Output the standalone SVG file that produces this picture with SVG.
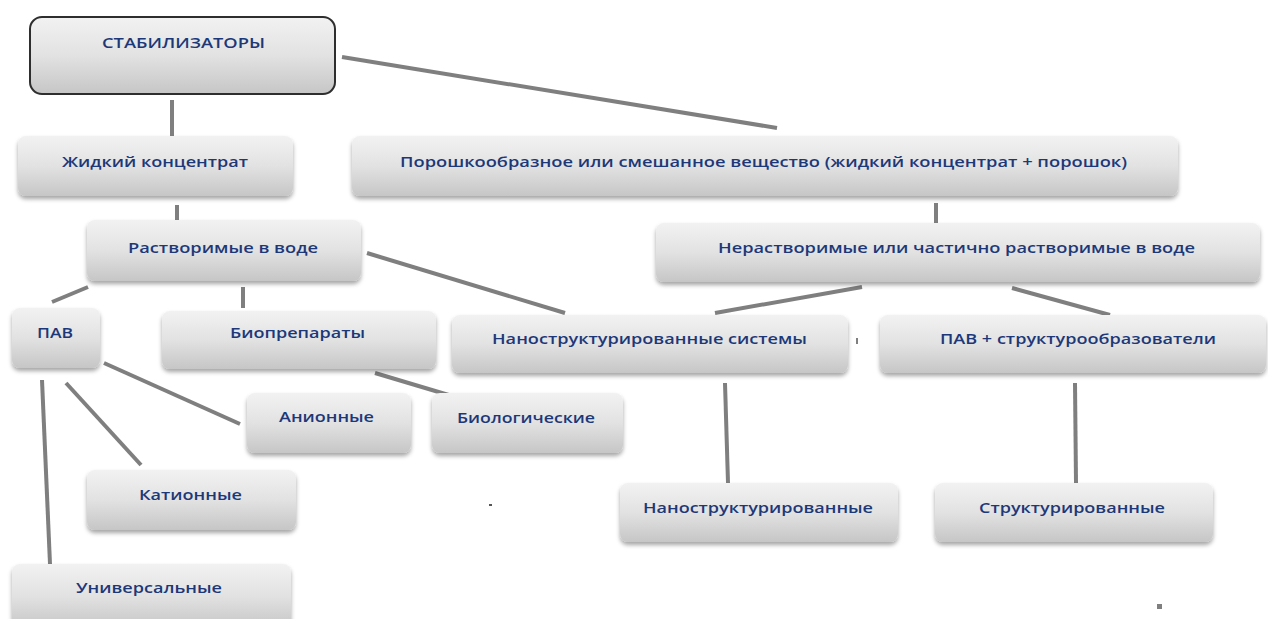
<svg xmlns="http://www.w3.org/2000/svg" width="1268" height="619" viewBox="0 0 1268 619">
<defs>
<linearGradient id="g" x1="0" y1="0" x2="0" y2="1">
<stop offset="0" stop-color="#f2f2f2"/>
<stop offset="0.5" stop-color="#e2e2e2"/>
<stop offset="1" stop-color="#c6c6c6"/>
</linearGradient>
<filter id="sh" x="-10%" y="-20%" width="120%" height="150%">
<feDropShadow dx="0" dy="3" stdDeviation="2" flood-color="#000" flood-opacity="0.35"/>
</filter>
</defs>
<style>
.n{fill:url(#g);filter:url(#sh)}
.root{fill:url(#g);stroke:#2e2e2e;stroke-width:2}
.t{font-family:"Open Sans","Noto Sans","Liberation Sans",sans-serif;font-weight:600;font-size:15px;fill:#1d3878;text-anchor:middle}
.c line{stroke:#7f7f7f;stroke-width:4;stroke-linecap:butt}
</style>
<rect width="1268" height="619" fill="#ffffff"/>

<g id="connectors" class="c">
<line x1="172" y1="100" x2="172" y2="136"/>
<line x1="342" y1="57" x2="777" y2="128"/>
<line x1="177" y1="205" x2="177" y2="221"/>
<line x1="936" y1="203" x2="936" y2="223"/>
<line x1="88" y1="287" x2="52" y2="302"/>
<line x1="243" y1="287" x2="243" y2="308"/>
<line x1="367" y1="253" x2="565" y2="313"/>
<line x1="862" y1="287" x2="715" y2="313"/>
<line x1="1012" y1="288" x2="1110" y2="315"/>
<line x1="104" y1="363" x2="240" y2="424"/>
<line x1="66" y1="383" x2="141" y2="465"/>
<line x1="42" y1="380" x2="50" y2="564"/>
<line x1="375" y1="373" x2="452" y2="396"/>
<line x1="725" y1="383" x2="728" y2="483"/>
<line x1="1075" y1="383" x2="1076" y2="483"/>
</g>

<g id="n-root"><rect class="root" x="30" y="17" width="305" height="77" rx="12"/><text class="t" x="183.5" y="48" textLength="163" lengthAdjust="spacingAndGlyphs">СТАБИЛИЗАТОРЫ</text></g>
<g id="n-liquid"><rect class="n" x="18" y="136" width="275" height="60" rx="8"/><text class="t" x="155" y="167" textLength="186" lengthAdjust="spacingAndGlyphs">Жидкий концентрат</text></g>
<g id="n-powder"><rect class="n" x="352" y="136" width="826" height="60" rx="8"/><text class="t" x="763.5" y="167" textLength="727" lengthAdjust="spacingAndGlyphs">Порошкообразное или смешанное вещество (жидкий концентрат + порошок)</text></g>
<g id="n-soluble"><rect class="n" x="87" y="220" width="274" height="61" rx="8"/><text class="t" x="223" y="253" textLength="190" lengthAdjust="spacingAndGlyphs">Растворимые в воде</text></g>
<g id="n-insoluble"><rect class="n" x="656" y="223" width="604" height="59" rx="8"/><text class="t" x="956.5" y="253" textLength="477" lengthAdjust="spacingAndGlyphs">Нерастворимые или частично растворимые в воде</text></g>
<g id="n-pav"><rect class="n" x="12" y="308" width="88" height="60" rx="8"/><text class="t" x="55" y="338" textLength="36" lengthAdjust="spacingAndGlyphs">ПАВ</text></g>
<g id="n-bio"><rect class="n" x="162" y="311" width="274" height="58" rx="8"/><text class="t" x="297.5" y="338" textLength="135" lengthAdjust="spacingAndGlyphs">Биопрепараты</text></g>
<g id="n-nanosys"><rect class="n" x="452" y="315" width="396" height="58" rx="8"/><text class="t" x="649.5" y="344" textLength="315" lengthAdjust="spacingAndGlyphs">Наноструктурированные системы</text></g>
<g id="n-pavstruct"><rect class="n" x="880" y="315" width="386" height="58" rx="8"/><text class="t" x="1078" y="344" textLength="276" lengthAdjust="spacingAndGlyphs">ПАВ + структурообразователи</text></g>
<g id="n-anion"><rect class="n" x="247" y="393" width="164" height="60" rx="8"/><text class="t" x="326.5" y="422" textLength="95" lengthAdjust="spacingAndGlyphs">Анионные</text></g>
<g id="n-biol"><rect class="n" x="432" y="393" width="191" height="60" rx="8"/><text class="t" x="526" y="423" textLength="138" lengthAdjust="spacingAndGlyphs">Биологические</text></g>
<g id="n-cation"><rect class="n" x="87" y="470" width="209" height="60" rx="8"/><text class="t" x="190.5" y="500" textLength="103" lengthAdjust="spacingAndGlyphs">Катионные</text></g>
<g id="n-univ"><rect class="n" x="12" y="564" width="279" height="64" rx="8"/><text class="t" x="149" y="593" textLength="146" lengthAdjust="spacingAndGlyphs">Универсальные</text></g>
<g id="n-nano"><rect class="n" x="620" y="483" width="278" height="59" rx="8"/><text class="t" x="758" y="513" textLength="230" lengthAdjust="spacingAndGlyphs">Наноструктурированные</text></g>
<g id="n-struct"><rect class="n" x="935" y="483" width="278" height="59" rx="8"/><text class="t" x="1072" y="513" textLength="186" lengthAdjust="spacingAndGlyphs">Структурированные</text></g>

<g id="marks" fill="#7f7f7f">
<rect x="856" y="338" width="2" height="6"/>
<rect x="489" y="504" width="3" height="2" fill="#555"/>
<rect x="1157" y="604" width="5" height="5"/>
</g>
</svg>
